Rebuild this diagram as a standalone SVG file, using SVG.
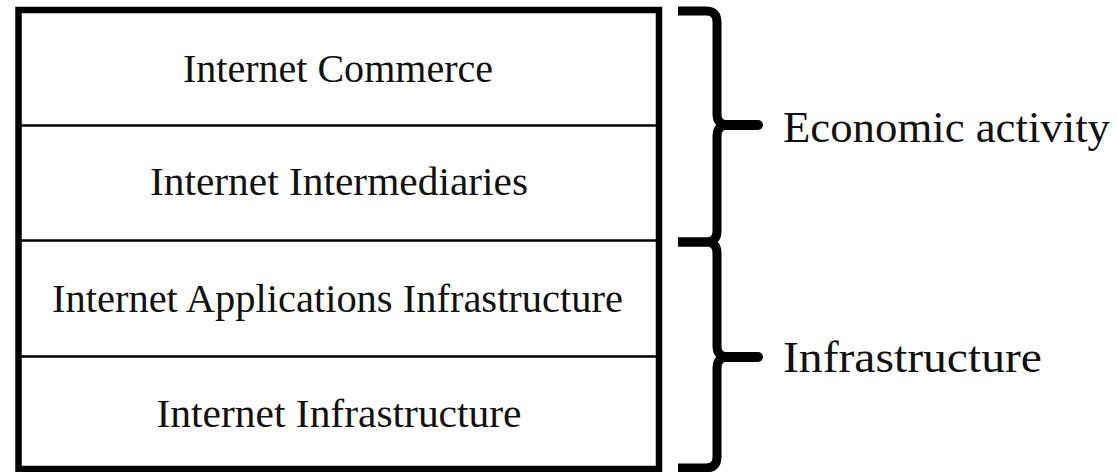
<svg xmlns="http://www.w3.org/2000/svg" width="1117" height="472" viewBox="0 0 1117 472">
  <style>
    .frame { fill: none; stroke: #000; stroke-width: 6.5; }
    .divider { stroke: #000; stroke-width: 2.5; }
    .layer-text { font-family: "Liberation Serif", "Times New Roman", serif; font-size: 40px; fill: #111; text-anchor: middle; }
    .group-text { font-family: "Liberation Serif", "Times New Roman", serif; font-size: 45px; fill: #111; }
    .brace { fill: none; stroke: #000; stroke-width: 9; stroke-linejoin: round; stroke-linecap: butt; }
    .brace-tip { fill: none; stroke: #000; stroke-width: 10; stroke-linecap: round; }
  </style>
  <rect width="1117" height="472" fill="#fff"/>

  <!-- outer frame of the layer stack -->
  <rect class="frame" x="18.5" y="10" width="640.5" height="459"/>

  <!-- layers, top to bottom -->
  <g id="layer-commerce">
    <text class="layer-text" x="338" y="82" textLength="310" lengthAdjust="spacingAndGlyphs">Internet Commerce</text>
  </g>
  <g id="layer-intermediaries">
    <line class="divider" x1="21" y1="125.5" x2="656" y2="125.5"/>
    <text class="layer-text" x="339" y="195" textLength="378" lengthAdjust="spacingAndGlyphs">Internet Intermediaries</text>
  </g>
  <g id="layer-applications">
    <line class="divider" x1="21" y1="240.5" x2="656" y2="240.5"/>
    <text class="layer-text" x="337.5" y="312" textLength="571" lengthAdjust="spacingAndGlyphs">Internet Applications Infrastructure</text>
  </g>
  <g id="layer-infrastructure">
    <line class="divider" x1="21" y1="356.5" x2="656" y2="356.5"/>
    <text class="layer-text" x="339" y="427" textLength="365" lengthAdjust="spacingAndGlyphs">Internet Infrastructure</text>
  </g>

  <!-- braces grouping the layers -->
  <g id="connectors">
    <path class="brace" d="M 678 11 L 706 11 Q 717 11 717 22 L 717 114 Q 717 125 728 125 M 728 125 Q 717 125 717 136 L 717 231 Q 717 242 706 242 L 678 242"/>
    <line class="brace-tip" x1="725" y1="125" x2="758" y2="125"/>
    <path class="brace" d="M 678 242 L 706 242 Q 717 242 717 253 L 717 346 Q 717 357 728 357 M 728 357 Q 717 357 717 368 L 717 457 Q 717 468 706 468 L 678 468"/>
    <line class="brace-tip" x1="725" y1="357" x2="758" y2="357"/>
  </g>

  <g id="label-economic">
    <text class="group-text" x="783" y="142" textLength="327" lengthAdjust="spacingAndGlyphs">Economic activity</text>
  </g>
  <g id="label-infrastructure">
    <text class="group-text" x="783" y="372" textLength="259" lengthAdjust="spacingAndGlyphs">Infrastructure</text>
  </g>
</svg>
